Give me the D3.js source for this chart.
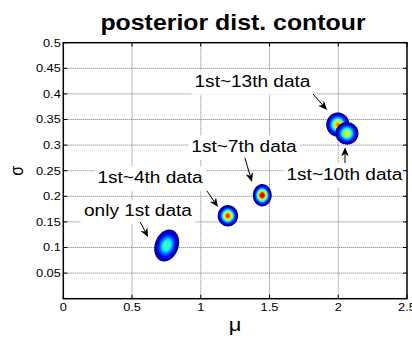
<!DOCTYPE html>
<html>
<head>
<meta charset="utf-8">
<script src="https://cdn.jsdelivr.net/npm/d3@7"></script>
<style>
  body { margin: 0; background: #fff; }
  text { font-family: "Liberation Sans", Arial, sans-serif; fill: #000; }
</style>
</head>
<body>
<div id="graph"></div>
<script>
// axis ticks
const muTicks = [0, 0.5, 1, 1.5, 2, 2.5];
const sigmaTicks = [0.05, 0.1, 0.15, 0.2, 0.25, 0.3, 0.35, 0.4, 0.45, 0.5];

// posterior blobs (drawn in this order)
const blobNames = ['only 1st data', '1st~4th data', '1st~7th data', '1st~13th data', '1st~10th data'];
const blobMu = [0.752, 1.197, 1.447, 1.997, 2.063];
const blobSigma = [0.104, 0.162, 0.202, 0.340, 0.323];
const blobSdMu = [0.040, 0.029, 0.026, 0.034, 0.035];
const blobSdSigma = [0.014, 0.0082, 0.0084, 0.0096, 0.0092];
const blobRho = [0.22, 0, 0, 0, 0];
const blobPeak = [0.5, 0.88, 1.0, 0.78, 0.65];

// contour levels
const levels = [0.05, 0.1, 0.15, 0.2, 0.25, 0.3, 0.35, 0.4, 0.45, 0.5,
  0.55, 0.6, 0.65, 0.7, 0.75, 0.8, 0.85, 0.9, 0.95, 1.0];

// text annotations: label anchor (centre, baseline) and arrow, in data units
const notes = [
  {text: 'only 1st data', mu: 0.543, sigma: 0.1615, from: [0.559, 0.150], to: [0.617, 0.120]},
  {text: '1st~4th data', mu: 0.631, sigma: 0.226, from: [1.045, 0.2104], to: [1.125, 0.179]},
  {text: '1st~7th data', mu: 1.314, sigma: 0.2865, from: [1.321, 0.275], to: [1.372, 0.228]},
  {text: '1st~10th data', mu: 2.045, sigma: 0.232, from: [2.049, 0.265], to: [2.049, 0.296]},
  {text: '1st~13th data', mu: 1.376, sigma: 0.4135, from: [1.816, 0.400], to: [1.918, 0.3686]}
];

const width = 412;
const height = 340;
const margin = {left: 63.3, right: 5, top: 42.7, bottom: 41.3};

const svg = d3.select('#graph')
    .append('svg')
    .attr('width', width)
    .attr('height', height);

const x = d3.scaleLinear().domain([0, 2.5]).range([margin.left, width - margin.right]);
const y = d3.scaleLinear().domain([0, 0.5]).range([height - margin.bottom, margin.top]);

// MATLAB jet colormap
function jet(t) {
  const c = v => Math.round(255 * Math.max(0, Math.min(1, v)));
  return `rgb(${c(1.5 - Math.abs(4 * t - 3))},${c(1.5 - Math.abs(4 * t - 2))},${c(1.5 - Math.abs(4 * t - 1))})`;
}

// stretched text helper
function addText(parent, str, px, py, size, sx, anchor, weight) {
  return parent.append('text')
      .attr('transform', `translate(${px},${py}) scale(${sx},1)`)
      .attr('text-anchor', anchor)
      .style('font-size', size + 'px')
      .style('font-weight', weight || 'normal')
      .text(str);
}

// grid
const grid = svg.append('g')
    .attr('stroke', '#777')
    .attr('stroke-width', 1)
    .attr('stroke-dasharray', '1,1');
muTicks.slice(1, -1).forEach(function(m) {
  grid.append('line')
      .attr('x1', x(m)).attr('x2', x(m))
      .attr('y1', y(0)).attr('y2', y(0.5));
});
sigmaTicks.slice(0, -1).forEach(function(s) {
  grid.append('line')
      .attr('x1', x(0)).attr('x2', x(2.5))
      .attr('y1', y(s)).attr('y2', y(s));
});

// contour blobs
const dMu = 0.01;
const dSig = 0.0025;
const nx = Math.round(2.5 / dMu);
const ny = Math.round(0.5 / dSig);
const gridPath = d3.geoPath(d3.geoTransform({
  point: function(gx, gy) {
    this.stream.point(x(gx * dMu), y(gy * dSig));
  }
}));
const plot = svg.append('g');

blobNames.forEach(function(name, k) {
  const values = new Float64Array(nx * ny);
  const r = blobRho[k];
  for (let j = 0; j < ny; j++) {
    const v = ((j + 0.5) * dSig - blobSigma[k]) / blobSdSigma[k];
    for (let i = 0; i < nx; i++) {
      const u = ((i + 0.5) * dMu - blobMu[k]) / blobSdMu[k];
      const z = (u * u - 2 * r * u * v + v * v) / (1 - r * r);
      values[i + j * nx] = blobPeak[k] * Math.exp(-z / 2);
    }
  }
  const cs = d3.contours().size([nx, ny]).thresholds(levels)(values)
      .filter(d => d.coordinates.length);
  plot.append('g')
      .attr('class', 'blob')
      .selectAll('path')
      .data(cs)
      .enter()
      .append('path')
      .attr('d', gridPath)
      .attr('fill', d => jet(d.value))
      .attr('stroke', (d, i) => i === 0 ? '#00008f' : jet(d.value))
      .attr('stroke-width', (d, i) => i === 0 ? 1.2 : 0.6);
});

// annotations
const ann = svg.append('g');
notes.forEach(function(n) {
  const g = ann.append('g')
      .attr('transform', `translate(${x(n.mu)},${y(n.sigma)}) scale(1.19,1)`);
  const t = g.append('text')
      .attr('text-anchor', 'middle')
      .style('font-size', '16px')
      .text(n.text);
  const b = t.node().getBBox();
  g.insert('rect', 'text')
      .attr('x', b.x - 2.5)
      .attr('y', b.y - 2)
      .attr('width', b.width + 5)
      .attr('height', b.height + 6)
      .attr('fill', '#fff');

  const x0 = x(n.from[0]), y0 = y(n.from[1]);
  const x1 = x(n.to[0]), y1 = y(n.to[1]);
  const a = Math.atan2(y1 - y0, x1 - x0);
  const L = 9, W = 3.8, N = 6.5;
  const px = (d, w) => [x1 - d * Math.cos(a) - w * Math.sin(a), y1 - d * Math.sin(a) + w * Math.cos(a)];
  ann.append('line')
      .attr('x1', x0).attr('y1', y0)
      .attr('x2', px(N, 0)[0]).attr('y2', px(N, 0)[1])
      .attr('stroke', '#000')
      .attr('stroke-width', 1);
  ann.append('path')
      .attr('d', 'M' + [[x1, y1], px(L, W), px(N, 0), px(L, -W)].map(p => p.join(',')).join('L') + 'Z')
      .attr('fill', '#000');
});

// axes box with inward ticks
const axes = svg.append('g').attr('stroke', '#000');
axes.append('rect')
    .attr('x', x(0)).attr('y', y(0.5))
    .attr('width', x(2.5) - x(0)).attr('height', y(0) - y(0.5))
    .attr('fill', 'none')
    .attr('stroke-width', 1.5);
muTicks.forEach(function(m) {
  axes.append('line').attr('x1', x(m)).attr('x2', x(m)).attr('y1', y(0)).attr('y2', y(0) - 4);
  axes.append('line').attr('x1', x(m)).attr('x2', x(m)).attr('y1', y(0.5)).attr('y2', y(0.5) + 4);
  addText(svg, d3.format('')(m), x(m), y(0) + 12.5, 10.5, 1.22, 'middle');
});
sigmaTicks.forEach(function(s) {
  axes.append('line').attr('x1', x(0)).attr('x2', x(0) + 4).attr('y1', y(s)).attr('y2', y(s));
  axes.append('line').attr('x1', x(2.5)).attr('x2', x(2.5) - 4).attr('y1', y(s)).attr('y2', y(s));
  addText(svg, d3.format('')(s), x(0) - 2.5, y(s) + 3.8, 10.5, 1.22, 'end');
});

// title and axis labels
addText(svg, 'posterior dist. contour', 233, 29.5, 22, 1.13, 'middle', 'bold');
addText(svg, 'μ', (x(0) + x(2.5)) / 2, 331, 19, 1.15, 'middle');
svg.append('text')
    .attr('transform', `translate(23,${(y(0) + y(0.5)) / 2}) rotate(-90) scale(1,1.2)`)
    .attr('text-anchor', 'middle')
    .style('font-size', '16px')
    .text('σ');
</script>
</body>
</html>
